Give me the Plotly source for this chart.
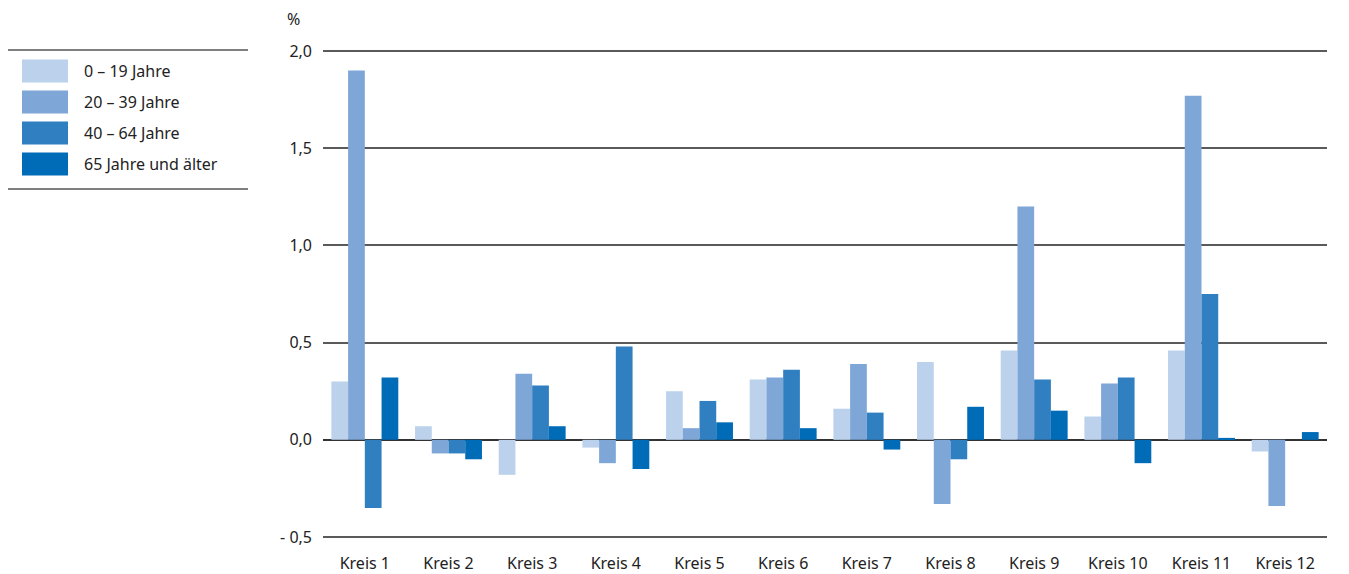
import plotly.graph_objects as go

categories = ["Kreis 1", "Kreis 2", "Kreis 3", "Kreis 4", "Kreis 5", "Kreis 6",
              "Kreis 7", "Kreis 8", "Kreis 9", "Kreis 10", "Kreis 11", "Kreis 12"]
series_names = ["0 – 19 Jahre", "20 – 39 Jahre", "40 – 64 Jahre", "65 Jahre und älter"]
age_0_19 = [0.30, 0.07, -0.18, -0.04, 0.25, 0.31, 0.16, 0.40, 0.46, 0.12, 0.46, -0.06]
age_20_39 = [1.90, -0.07, 0.34, -0.12, 0.06, 0.32, 0.39, -0.33, 1.20, 0.29, 1.77, -0.34]
age_40_64 = [-0.35, -0.07, 0.28, 0.48, 0.20, 0.36, 0.14, -0.10, 0.31, 0.32, 0.75, 0.0]
age_65 = [0.32, -0.10, 0.07, -0.15, 0.09, 0.06, -0.05, 0.17, 0.15, -0.12, 0.01, 0.04]
colors = ["#bcd2ec", "#7ea7d8", "#2f7fc1", "#006cb7"]
y_tickvals = [-0.5, 0.0, 0.5, 1.0, 1.5, 2.0]
y_ticktext = ["- 0,5", "0,0", "0,5", "1,0", "1,5", "2,0"]

W, H = 1349, 574
L, R, T, B = 323, 22, 49, 35
PW = W - L - R
PH = H - T - B

def px(x):
    return (x - L) / PW

def py(y):
    return 1 - (y - T) / PH

FONT = "Noto Sans"
FS = 16
fig = go.Figure()
for name, vals, col in zip(series_names, [age_0_19, age_20_39, age_40_64, age_65], colors):
    fig.add_trace(go.Bar(x=categories, y=vals, name=name, marker_color=col,
                         marker_line_width=0, showlegend=False))

shapes = []
annotations = []
# legend rules
for yy in (50, 189):
    shapes.append(dict(type="line", xref="paper", yref="paper", x0=px(8), x1=px(248),
                       y0=py(yy), y1=py(yy), line=dict(color="#555", width=1.5)))
for i, (name, col) in enumerate(zip(series_names, colors)):
    yc = 71 + i * 31
    shapes.append(dict(type="rect", xref="paper", yref="paper", x0=px(22), x1=px(68),
                       y0=py(yc + 11.5), y1=py(yc - 11.5), fillcolor=col, line_width=0))
    annotations.append(dict(text=name, xref="paper", yref="paper", x=px(82), y=py(yc),
                            xanchor="left", yanchor="middle", showarrow=False,
                            font=dict(family=FONT, size=FS, color="#222")))
annotations.append(dict(text="%", xref="paper", yref="paper", x=px(293), y=py(19),
                        xanchor="center", yanchor="middle", showarrow=False,
                        font=dict(family=FONT, size=FS, color="#222")))

fig.update_layout(
    width=W, height=H,
    margin=dict(l=L, r=R, t=T, b=B),
    paper_bgcolor="white", plot_bgcolor="white",
    barmode="group", bargap=0.2, bargroupgap=0,
    font=dict(family=FONT, size=FS, color="#222"),
    shapes=shapes, annotations=annotations,
    xaxis=dict(showgrid=False, showline=False, zeroline=False, ticks="outside",
               ticklen=10, tickcolor="rgba(0,0,0,0)", tickfont=dict(size=FS),
               automargin=False),
    yaxis=dict(range=[-0.51, 2.01], tickvals=y_tickvals, ticktext=y_ticktext,
               showgrid=True, gridcolor="#5a5a5a", gridwidth=1.5,
               zeroline=True, zerolinecolor="#333", zerolinewidth=2,
               showline=False, ticks="", ticklabelstandoff=10, tickfont=dict(size=FS),
               automargin=False),
)
fig.write_html("out.html")
